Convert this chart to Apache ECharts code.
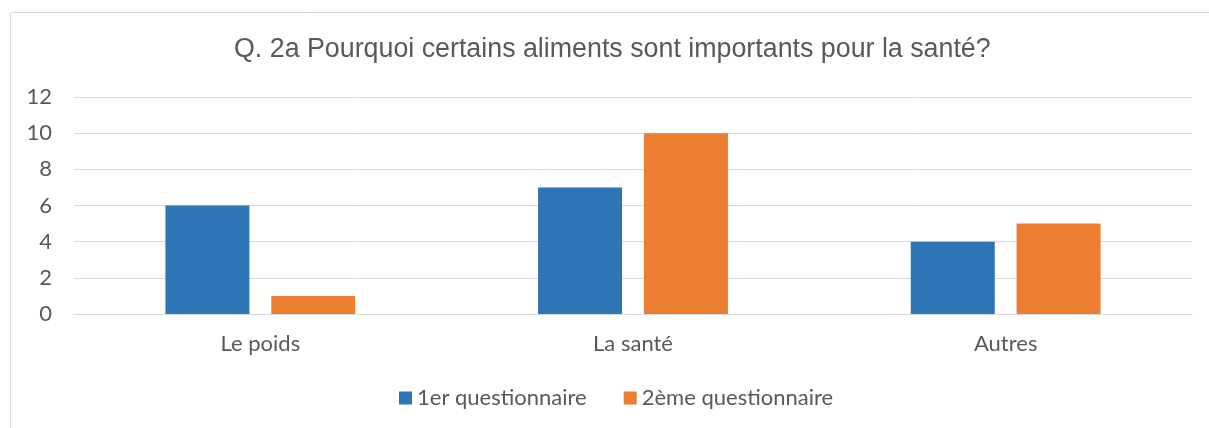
<!DOCTYPE html>
<html>
<head>
<meta charset="utf-8">
<script src="https://cdn.jsdelivr.net/npm/echarts@6/dist/echarts.min.js"></script>
<style>
  html, body { margin: 0; padding: 0; background: #fff; }
  #chart { width: 1209px; height: 428px; }
</style>
</head>
<body>
<div id="chart"></div>
<script>
var categories = ['Le poids', 'La santé', 'Autres'];
var firstSurvey = [6, 7, 4];
var secondSurvey = [1, 10, 5];
var yTicks = [0, 2, 4, 6, 8, 10, 12];

var myChart = echarts.init(document.getElementById('chart'));

var option = {
    backgroundColor: '#fff',
    animation: false,
    graphic: [{
        type: 'rect',
        shape: { x: 10.5, y: 12.5, width: 1230, height: 440 },
        style: { fill: 'none', stroke: '#d9d9d9', lineWidth: 1 }
    }],
    title: {
        text: 'Q. 2a Pourquoi certains aliments sont importants pour la santé?',
        left: 234,
        top: 36,
        padding: 0,
        textStyle: {
            fontFamily: 'Liberation Sans',
            fontSize: 26.8,
            fontWeight: 'normal',
            color: '#595959'
        }
    },
    legend: {
        data: ['1er questionnaire', '2ème questionnaire'],
        top: 387,
        left: 399,
        padding: 0,
        itemWidth: 13,
        itemHeight: 13,
        itemGap: 37,
        icon: 'rect',
        textStyle: { fontFamily: 'Lato', fontSize: 22, color: '#595959' }
    },
    grid: { left: 74, right: 17, top: 97, bottom: 114 },
    xAxis: {
        type: 'category',
        data: categories,
        axisLine: { lineStyle: { color: '#d9d9d9', width: 1 } },
        axisTick: { show: false },
        axisLabel: { fontFamily: 'Lato', fontSize: 22, color: '#595959', margin: 19 }
    },
    yAxis: {
        type: 'value',
        min: yTicks[0],
        max: yTicks[yTicks.length - 1],
        interval: 2,
        axisLine: { show: false },
        axisTick: { show: false },
        splitLine: { lineStyle: { color: '#d9d9d9', width: 1 } },
        axisLabel: { fontFamily: 'Lato', fontSize: 22, color: '#595959', margin: 22 }
    },
    series: [
        {
            name: '1er questionnaire',
            type: 'bar',
            data: firstSurvey,
            barWidth: 84,
            barGap: '26%',
            itemStyle: { color: '#2e75b6' }
        },
        {
            name: '2ème questionnaire',
            type: 'bar',
            data: secondSurvey,
            barWidth: 84,
            itemStyle: { color: '#ed7d31' }
        }
    ]
};

myChart.setOption(option);
</script>
</body>
</html>
